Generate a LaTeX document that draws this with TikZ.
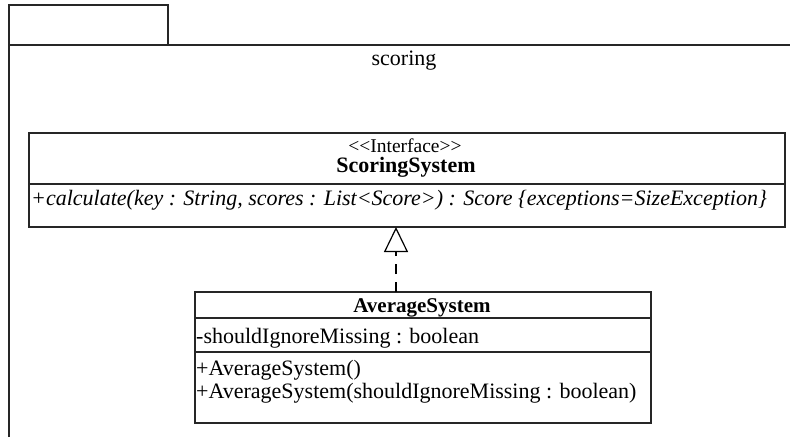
\documentclass[tikz,border=0pt]{standalone}
\usepackage{fontspec}
\setmainfont{Liberation Serif}
\usetikzlibrary{arrows.meta}
\begin{document}
\begin{tikzpicture}[x=1pt,y=-1pt,
  line/.style={draw=black!85,line width=1.4pt},
  txt/.style={inner sep=0pt,anchor=base,font=\fontsize{22}{24}\selectfont},
  lefttxt/.style={txt,anchor=base west}]
\useasboundingbox (0,0) rectangle (790,437);
% package
\draw[line] (9,437) -- (9,5) -- (168,5) -- (168,45);
\draw[line] (9,45) -- (792,45);
\node[txt] (pkg) at (404,65) {scoring};
% interface
\draw[line] (29,133) rectangle (785,227);
\draw[line] (29,184) -- (785,184);
\node[txt,font=\fontsize{19.5}{22}\selectfont] (st) at (405,152) {<{}<Interface>{}>};
\node[txt,font=\fontsize{22}{24}\selectfont\bfseries] (ss) at (406,172) {ScoringSystem};
\node[lefttxt,font=\fontsize{22}{24}\selectfont\itshape] (m1) at (31,205) {+calculate(key : String, scores : List<Score>) : Score \{exceptions=SizeException\}};
\coordinate (itop) at (396,227);
% class
\draw[line] (195,292) rectangle (651,423);
\draw[line] (195,318) -- (651,318);
\draw[line] (195,352) -- (651,352);
\coordinate (ctop) at (396,292);
\node[txt,font=\fontsize{21}{24}\selectfont\bfseries] (cs) at (422,312) {AverageSystem};
\node[lefttxt] (a1) at (196,343) {-shouldIgnoreMissing : boolean};
\node[lefttxt] (o1) at (196,375) {+AverageSystem()};
\node[lefttxt] (o2) at (196,398) {+AverageSystem(shouldIgnoreMissing : boolean)};
% realization
\draw[draw=black,line width=1.2pt,dashed,dash pattern=on 10pt off 8pt,-{Triangle[open,width=24pt,length=25pt]}] (ctop) -- (itop);
\end{tikzpicture}
\end{document}
